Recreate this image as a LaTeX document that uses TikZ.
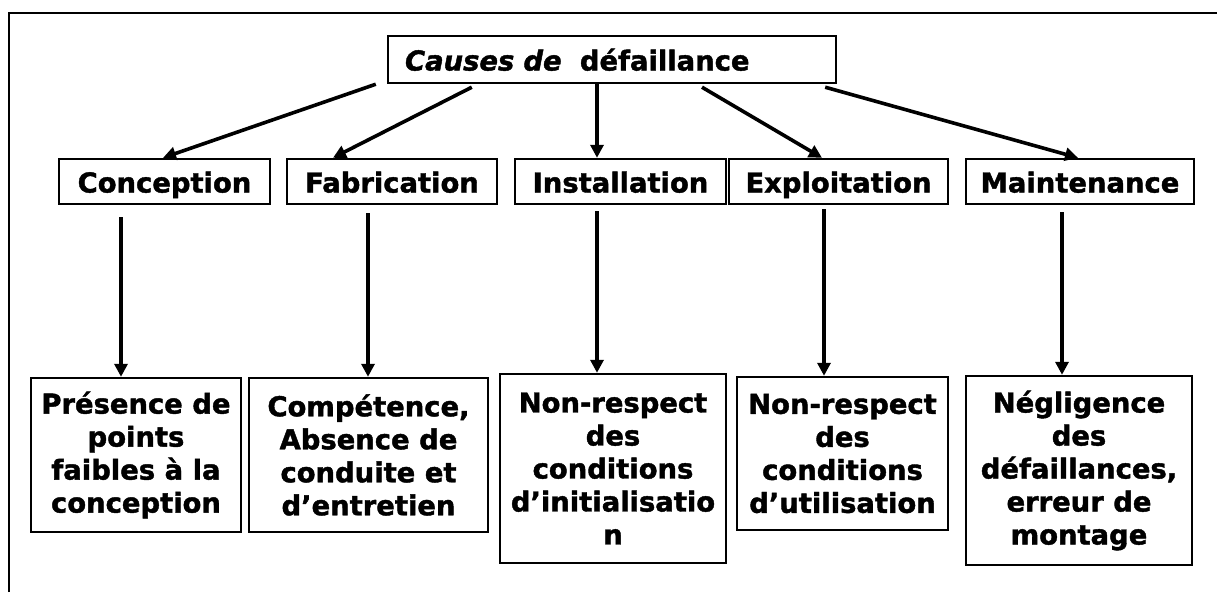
\documentclass[tikz,border=0pt]{standalone}
\usepackage{fontspec}
\setmainfont{DejaVu Sans}[BoldFeatures={FakeBold=1.5},BoldItalicFeatures={FakeBold=1.5}]
\usetikzlibrary{arrows.meta}
\begin{document}
\begin{tikzpicture}[x=1pt,y=-1pt,
  font=\bfseries\fontsize{27.4}{33}\selectfont,
  bx/.style={draw,line width=2.4pt,inner sep=0pt,align=center,minimum height=45pt},
  one/.style={bx,text height=27pt,text depth=5pt},
  ar/.style={-{Triangle[length=13pt,width=13pt]},line width=3.6pt}]
\useasboundingbox (0,0) rectangle (1217,592);
\draw[line width=2.2pt] (9,592) |- (1217,13);
% top cause
\node[one,minimum height=47pt,text width=414pt,inner xsep=17pt,align=left] (cau) at (612,59.5) {\textit{Causes de}\ \ défaillance};
% the five origins
\node[one,minimum width=211pt] (conc) at (164.5,181.5) {Conception};
\node[one,minimum width=210pt] (fab) at (392,181.5) {Fabrication};
\node[one,minimum width=211pt] (inst) at (620.5,181.5) {Installation};
\node[one,minimum width=219pt] (expl) at (838.5,181.5) {Exploitation};
\node[one,minimum width=228pt] (maint) at (1080,181.5) {Maintenance};
% what goes wrong in each
\node[bx,minimum width=210pt,minimum height=154pt] (pres) at (136,455) {Présence de\\points\\faibles à la\\conception};
\node[bx,minimum width=239pt,minimum height=154pt] (comp) at (368.5,455) {Compétence,\\Absence de\\conduite et\\d’entretien};
\node[bx,minimum width=226pt,minimum height=189pt] (init) at (613,468.5) {Non-respect\\des\\conditions\\d’initialisatio\\n};
\node[bx,minimum width=211pt,minimum height=153pt] (util) at (842.5,453.5) {Non-respect\\des\\conditions\\d’utilisation};
\node[bx,minimum width=226pt,minimum height=189pt] (mont) at (1079,470.5) {Négligence\\des\\défaillances,\\erreur de\\montage};
\draw[ar] ([xshift=-11pt]cau.south west) -- ([xshift=-1.5pt]conc.north);
\draw[ar] ([xshift=85pt,yshift=-3pt]cau.south west) -- ([xshift=-59pt]fab.north);
\draw[ar] ([xshift=-15pt]cau.south) -- ([xshift=-23.5pt]inst.north);
\draw[ar] ([xshift=90pt,yshift=-3pt]cau.south) -- ([xshift=-16.5pt]expl.north);
\draw[ar] ([xshift=-12pt,yshift=-3pt]cau.south east) -- ([xshift=-2pt]maint.north);
\foreach \a/\b/\dx/\gap in {conc/pres/-43.5/12, fab/comp/-24/8, inst/init/-23.5/6, expl/util/-14.5/4, maint/mont/-18/7}
  \draw[ar] ([xshift=\dx pt,yshift=-\gap pt]\a.south) coordinate (s) -- (s |- \b.north);
\end{tikzpicture}
\end{document}
